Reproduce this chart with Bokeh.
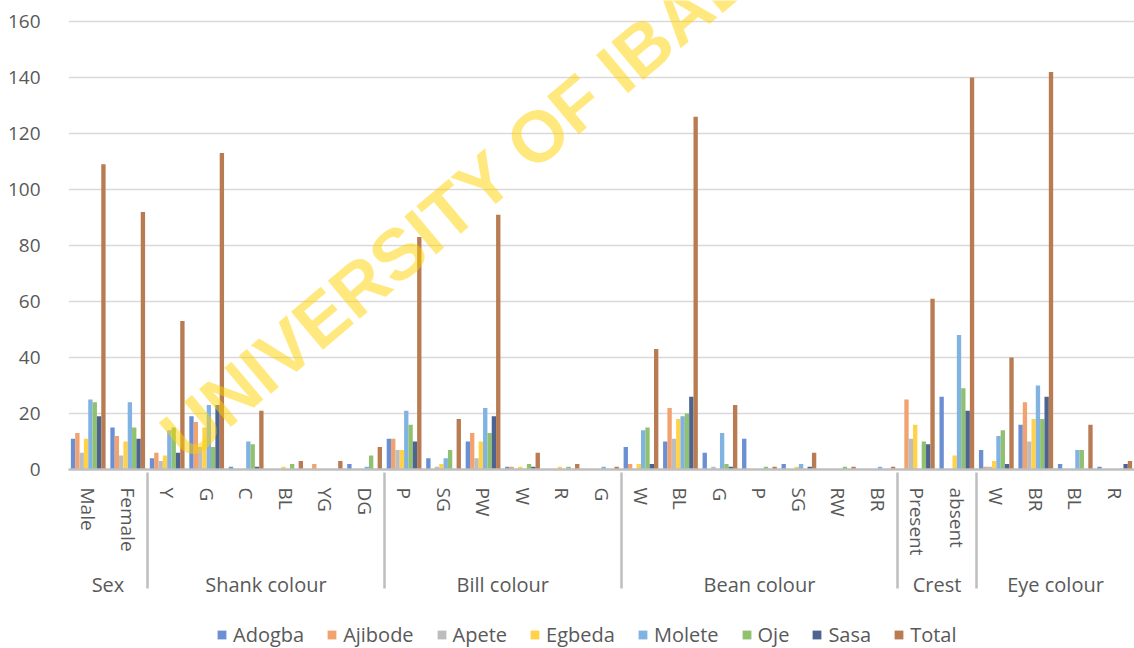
from bokeh.plotting import figure
from bokeh.layouts import column
from bokeh.models import (FactorRange, ColumnDataSource, Legend, LegendItem, Label,
                          FixedTicker, Range1d)
from bokeh.transform import dodge
from bokeh.embed import file_html
from bokeh.resources import INLINE

groups = ["Sex", "Shank colour", "Bill colour", "Bean colour", "Crest", "Eye colour"]
subcats = [["Male", "Female"],
           ["Y", "G", "C", "BL", "YG", "DG"],
           ["P", "SG", "PW", "W", "R", "G"],
           ["W", "BL", "G", "P", "SG", "RW", "BR"],
           ["Present", "absent"],
           ["W", "BR", "BL", "R"]]

series = ["Adogba", "Ajibode", "Apete", "Egbeda", "Molete", "Oje", "Sasa", "Total"]
colors = ["#6a8fd3", "#f2a26f", "#bdbdbd", "#ffd24a", "#80b2e2", "#8fc170", "#4d6491", "#b87b52"]

adogba  = [11, 15,  4, 19, 1, 0, 0, 2,  11, 4, 10, 1, 0, 0,  8, 10, 6, 11, 2, 0, 0,  0, 26,  7, 16, 2, 1]
ajibode = [13, 12,  6, 17, 0, 0, 2, 0,  11, 0, 13, 1, 0, 0,  2, 22, 0, 0, 0, 0, 0,  25, 0,  1, 24, 0, 0]
apete   = [6, 5,    3, 8, 0, 0, 0, 0,   7, 1, 4, 0, 0, 0,    0, 11, 1, 0, 0, 0, 0,  11, 0,  1, 10, 0, 0]
egbeda  = [11, 10,  5, 15, 0, 1, 0, 0,  7, 2, 10, 1, 1, 0,   2, 18, 0, 0, 1, 0, 0,  16, 5,  3, 18, 0, 0]
molete  = [25, 24,  14, 23, 10, 0, 0, 1,  21, 4, 22, 0, 0, 1,  14, 19, 13, 0, 2, 0, 1,  0, 48,  12, 30, 7, 0]
oje     = [24, 15,  15, 8, 9, 2, 0, 5,  16, 7, 13, 2, 1, 0,  15, 20, 2, 1, 0, 1, 0,  10, 29,  14, 18, 7, 0]
sasa    = [19, 11,  6, 23, 1, 0, 0, 0,  10, 0, 19, 1, 0, 0,  2, 26, 1, 0, 1, 0, 0,  9, 21,  2, 26, 0, 2]
total   = [109, 92,  53, 113, 21, 3, 3, 8,  83, 18, 91, 6, 2, 1,  43, 126, 23, 1, 6, 1, 1,  61, 140,  40, 142, 16, 3]

y_ticks = [0, 20, 40, 60, 80, 100, 120, 140, 160]

factors = [(g, s) for g, subs in zip(groups, subcats) for s in subs]
data = {"x": factors}
values = [adogba, ajibode, apete, egbeda, molete, oje, sasa, total]
for name, vals in zip(series, values):
    data[name] = vals
source = ColumnDataSource(data)

FONT = "Open Sans"
GREY = "#595959"

FRAME_H = 469
p = figure(x_range=FactorRange(*factors, factor_padding=0, group_padding=0,
                               subgroup_padding=0, range_padding=0),
           y_range=Range1d(0, 160 * FRAME_H / 448),
           width=1134, height=600,
           output_backend="svg", toolbar_location=None,
           min_border_left=68, min_border_right=0, min_border_top=0, min_border_bottom=0)

bw = 0.11
renderers = []
for i, (name, col) in enumerate(zip(series, colors)):
    r = p.vbar(x=dodge("x", (i - 3.5) * bw, range=p.x_range), top=name, width=bw,
               source=source, fill_color=col, line_color=None)
    renderers.append(r)

p.outline_line_color = None
p.xgrid.grid_line_color = None
p.ygrid.grid_line_color = "#d9d9d9"
p.ygrid.grid_line_width = 1.5

p.yaxis.ticker = FixedTicker(ticks=y_ticks)
p.yaxis.axis_line_color = None
p.yaxis.major_tick_line_color = None
p.yaxis.minor_tick_line_color = None
p.yaxis.major_label_text_font = FONT
p.yaxis.major_label_text_font_size = "19px"
p.yaxis.major_label_text_color = GREY
p.yaxis.major_label_standoff = 22

xa = p.xaxis[0]
xa.axis_line_color = "#bfbfbf"
xa.axis_line_width = 2.5
xa.major_tick_line_color = None
xa.minor_tick_line_color = None
xa.major_label_orientation = "vertical"
xa.major_label_text_font = FONT
xa.major_label_text_font_size = "19px"
xa.major_label_text_color = GREY
xa.major_label_standoff = 12
xa.group_text_font = FONT
xa.group_text_font_size = "20px"
xa.group_text_font_style = "normal"
xa.group_text_color = GREY
xa.separator_line_color = "#bfbfbf"
xa.separator_line_width = 2.5

wm = Label(x=103, y=25, x_units="screen", y_units="screen", text="UNIVERSITY OF IBADAN",
           angle=0.70, text_align="left", text_baseline="middle",
           text_font="Liberation Sans", text_font_style="bold", text_font_size="72px",
           text_color="#FFD400", text_alpha=0.5)
p.add_layout(wm)

# legend strip (its frame is aligned with the main frame, which starts at x=68)
lf = figure(width=1134, height=48, output_backend="svg", toolbar_location=None,
            x_range=Range1d(0, 1), y_range=Range1d(0, 1),
            x_axis_location=None, y_axis_location=None,
            min_border_left=68, min_border_right=0, min_border_top=0, min_border_bottom=0)
lf.grid.visible = False
lf.outline_line_color = None
lrs = []
for name, col in zip(series, colors):
    lrs.append(lf.vbar(x=[-5], top=[-5], width=0.1, fill_color=col, line_color=None))
legend = Legend(items=[LegendItem(label=n, renderers=[r]) for n, r in zip(series, lrs)],
                orientation="horizontal", location=(148, 0),
                label_text_font=FONT, label_text_font_size="20px", label_text_color=GREY,
                glyph_width=11, glyph_height=11, label_standoff=6, spacing=22,
                border_line_color=None, background_fill_alpha=0, padding=0, margin=0)
lf.add_layout(legend)

layout = column(p, lf, spacing=0)
open("out.html", "w").write(file_html(layout, INLINE))
